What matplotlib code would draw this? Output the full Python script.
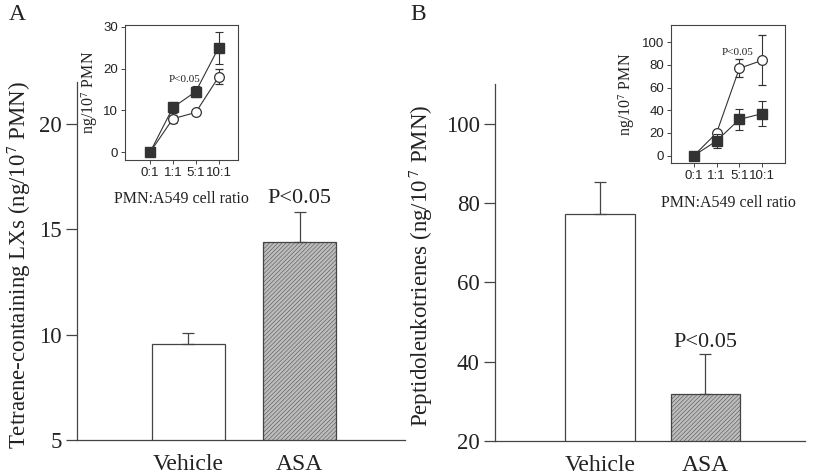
import matplotlib
matplotlib.use("Agg")
import matplotlib.pyplot as plt
import numpy as np

# ---- data ----
groups = ["Vehicle", "ASA"]
lx_means = [9.55, 14.42]
lx_err = [0.55, 1.4]
lt_means = [77.2, 31.9]
lt_err = [8.0, 10.0]

ratios = ["0:1", "1:1", "5:1", "10:1"]
insA_filled = [0.0, 10.7, 14.5, 25.0]
insA_filled_err = [0.4, 1.4, 1.3, 3.8]
insA_open = [0.0, 8.0, 9.5, 18.0]
insA_open_err = [0.3, 1.0, 0.5, 1.8]
insB_open = [0.0, 20.0, 77.0, 84.0]
insB_open_err = [1.0, 2.0, 8.0, 22.0]
insB_filled = [0.0, 13.0, 32.0, 37.0]
insB_filled_err = [1.0, 6.0, 9.5, 11.0]

plt.rcParams['hatch.linewidth'] = 0.35
plt.rcParams['hatch.color'] = '#808080'
plt.rcParams['mathtext.fontset'] = 'stix'
serif = ['Liberation Serif', 'DejaVu Serif']
sans = ['Liberation Sans', 'DejaVu Sans']
ink = '#222222'

fig = plt.figure(figsize=(8.25, 4.75), dpi=100)

def main_axes(rect, means, errs, ylim, yticks, ylabel, lab_x, ptxt_y):
    ax = fig.add_axes(rect)
    x = np.arange(len(groups))
    ax.bar(x[0], means[0], width=0.66, bottom=0, color='white', edgecolor='#444444', linewidth=0.9)
    ax.bar(x[1], means[1], width=0.66, bottom=0, color='#bdbdbd', edgecolor='#444444', linewidth=0.9, hatch='////////')
    ax.errorbar(x, means, yerr=[np.zeros(2), errs], fmt='none', ecolor='#444444', elinewidth=0.9, capsize=4, capthick=0.9)
    ax.set_ylim(*ylim)
    ax.set_xlim(-1.0, 1.95)
    ax.set_yticks(yticks)
    ax.set_xticks(x)
    ax.set_xticklabels(groups, fontsize=17, family=serif, color=ink)
    for t in ax.get_yticklabels():
        t.set_fontsize(16.5); t.set_family(serif); t.set_color(ink)
    ax.tick_params(axis='y', direction='out', length=8, width=0.9, color='#444444', pad=3)
    ax.tick_params(axis='x', length=0, pad=10)
    for s in ['top', 'right']:
        ax.spines[s].set_visible(False)
    for s in ['left', 'bottom']:
        ax.spines[s].set_color('#444444'); ax.spines[s].set_linewidth(0.9)
    ax.set_ylabel(ylabel, fontsize=16.5, family=serif, color=ink)
    ax.yaxis.set_label_coords(lab_x, 0.49)
    ax.text(1, ptxt_y, "P<0.05", ha='center', va='center', fontsize=16, family=serif, color=ink)
    return ax

axA = main_axes([0.0933, 0.0737, 0.398, 0.7537], lx_means, lx_err, (5, 22), [5, 10, 15, 20],
                "Tetraene-containing LXs (ng/10$^{7}$ PMN)", -0.135, 16.45)
axB = main_axes([0.6, 0.0716, 0.3758, 0.7514], lt_means, lt_err, (20, 110), [20, 40, 60, 80, 100],
                "Peptidoleukotrienes (ng/10$^{\\,7}$ PMN)", -0.195, 44.8)

def inset(rect, s_vals, s_err, o_vals, o_err, ylim, xlim, yticks, lab_x, ptxt):
    ax = fig.add_axes(rect)
    x = np.arange(len(ratios))
    ax.errorbar(x, o_vals, yerr=o_err, color='#333333', lw=0.8, marker='o', ms=7, mfc='white',
                mec='#333333', mew=0.9, capsize=3, elinewidth=0.8, capthick=0.8, zorder=3)
    ax.errorbar(x, s_vals, yerr=s_err, color='#333333', lw=0.8, marker='s', ms=6.5, mfc='#333333',
                mec='#333333', capsize=3, elinewidth=0.8, capthick=0.8, zorder=4)
    ax.set_xlim(*xlim)
    ax.set_ylim(*ylim)
    ax.set_xticks(x)
    ax.set_xticklabels(ratios)
    ax.set_yticks(yticks)
    ax.tick_params(direction='out', length=3, width=0.7, color='#444444', labelsize=9.5, pad=2)
    for t in ax.get_xticklabels() + ax.get_yticklabels():
        t.set_family(sans); t.set_color(ink)
    for s in ax.spines.values():
        s.set_color('#444444'); s.set_linewidth(0.8)
    ax.set_ylabel("ng/10$^{7}$ PMN", fontsize=11.5, family=serif, color=ink)
    ax.yaxis.set_label_coords(lab_x, 0.5)
    ax.set_xlabel("PMN:A549 cell ratio", fontsize=11.5, family=serif, color=ink)
    ax.xaxis.set_label_coords(0.5, -0.23)
    ax.text(ptxt[0], ptxt[1], "P<0.05", ha='center', va='center', fontsize=8, family=serif, color=ink)
    return ax

inset([0.1515, 0.663, 0.137, 0.284], insA_filled, insA_filled_err, insA_open, insA_open_err,
      (-1.9, 30.4), (-1.1, 3.85), [0, 10, 20, 30], -0.22, (1.5, 17.3))
inset([0.8133, 0.657, 0.1382, 0.29], insB_filled, insB_filled_err, insB_open, insB_open_err,
      (-6.4, 115), (-1.0, 4.0), [0, 20, 40, 60, 80, 100], -0.30, (1.9, 91))

fig.text(17/825, 1 - 14/475, "A", fontsize=17, family=serif, color=ink, ha='center', va='center')
fig.text(418/825, 1 - 14/475, "B", fontsize=17, family=serif, color=ink, ha='center', va='center')

fig.savefig("out.png", dpi=100)
